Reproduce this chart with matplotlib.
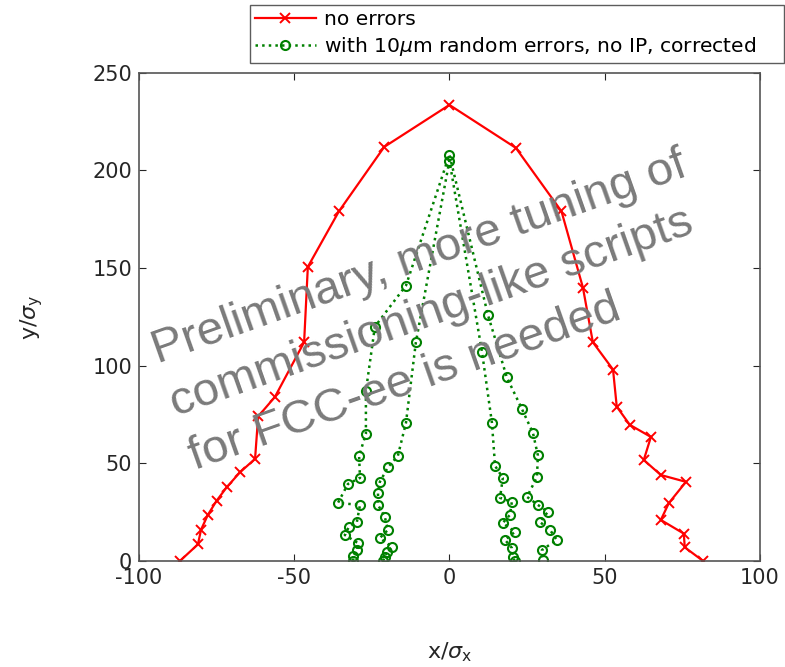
import matplotlib
matplotlib.use('Agg')
import matplotlib.pyplot as plt

plt.rcParams['axes.unicode_minus'] = False

# --- DATA ---
# dynamic aperture, no errors (left bottom -> top -> right bottom)
da_x = [-86.8, -81, -80, -77.8, -75, -71.6, -67.5, -62.6, -61.6, -56.2, -46.8, -45.6,
        -35.6, -21, 0, 21.4, 36.1, 43, 46.2, 52.7, 53.9, 58.1, 64.9, 62.6, 68.1, 76.2,
        70.7, 68.1, 75.5, 75.8, 81.7]
da_y = [0, 8.5, 16, 23.6, 30.8, 38, 45.3, 52.3, 74, 84, 112, 150.6,
        179, 212, 233.5, 211.5, 179, 140, 112, 98, 79, 69.7, 63.5, 51.7, 44, 40.5,
        29.7, 21, 14, 7, 0]

# with 10um random errors, corrected - seed 1
s1_x = [-31, -31, -29.8, -29.5, -33.7, -32.4, -29.8, -28.8, -35.9, -32.7, -28.8, -29.1,
        -26.9, -26.9, -24, -14, 0, 12.4, 18.5, 23.3, 26.9, 28.5, 28.2, 25, 28.5, 31.7,
        29.1, 32.4, 34.6, 29.8, 30.1]
s1_y = [0, 2.6, 5.6, 9.2, 13.3, 17.4, 20, 28.7, 29.7, 39.4, 42.5, 53.8,
        65, 87, 120, 141, 208, 126, 94, 78, 65.6, 54, 43, 32.8, 28.7, 25.1,
        20, 15.9, 10.8, 5.6, 0.5]

# seed 2
s2_x = [-21.4, -20.8, -20.2, -18.5, -22.4, -19.8, -20.8, -23, -23, -22.4, -19.8, -16.6,
        -14, -10.8, 0, 10.5, 13.7, 14.7, 17.2, 16.3, 20.1, 19.5, 17.2, 21.1, 17.9, 20.1,
        20.5, 21]
s2_y = [0, 2, 4.6, 7.2, 11.8, 15.9, 22.5, 28.7, 34.8, 40.5, 48, 53.8,
        70.7, 112, 205, 107, 70.7, 48.7, 42.5, 32.3, 30.2, 23.6, 19.5, 14.9, 10.8, 6.7,
        2, 0]

xticks = [-100, -50, 0, 50, 100]
yticks = [0, 50, 100, 150, 200, 250]

note = "Preliminary, more tuning of\ncommissioning-like scripts\nfor FCC-ee is needed"

fig = plt.figure(figsize=(7.85, 6.67), dpi=100)
ax = fig.add_axes([0.177, 0.159, 0.791, 0.732])

ax.plot(da_x, da_y, color='red', lw=1.6, marker='x', ms=7, mew=1.4,
        label='no errors')
ax.plot(s1_x, s1_y, color='green', lw=1.8, ls=':', marker='o', ms=6.5,
        mfc='none', mew=1.5, label=r'with 10$\mu$m random errors, no IP, corrected')
ax.plot(s2_x, s2_y, color='green', lw=1.8, ls=':', marker='o', ms=6.5,
        mfc='none', mew=1.5)

ax.set_xlim(-100, 100)
ax.set_ylim(0, 250)
ax.set_xticks(xticks)
ax.set_yticks(yticks)
ax.tick_params(direction='in', top=True, right=True, labelsize=15,
               colors='#262626', length=5, pad=5)
for s in ax.spines.values():
    s.set_color('#555555')
    s.set_linewidth(1.2)

ax.set_xlabel(r'x/$\sigma_\mathrm{x}$', fontsize=16, color='#262626', labelpad=38)
ax.set_ylabel(r'y/$\sigma_\mathrm{y}$', fontsize=16, color='#262626', labelpad=34)

# legend box stretched over the top strip of the figure
leg = fig.legend(loc='upper left',
                 bbox_to_anchor=(250 / 785, 1 - 63 / 667, 534 / 785, 58 / 667),
                 mode='expand', fontsize=14.6, handlelength=3.0, frameon=True,
                 fancybox=False, borderpad=0.25, labelspacing=0.3,
                 handletextpad=0.4, borderaxespad=0)
leg.get_frame().set_edgecolor('#333333')
leg.get_frame().set_linewidth(1.0)

# left-aligned, rotated note over the plot
ax.text(0.0113, 0.469, note, transform=ax.transAxes, rotation=19.5, ha='left',
        va='top', multialignment='left', fontsize=34.2, color='#7a7a7a',
        family='Liberation Sans', linespacing=1.36, rotation_mode='anchor')

fig.savefig('out.png', dpi=100)
